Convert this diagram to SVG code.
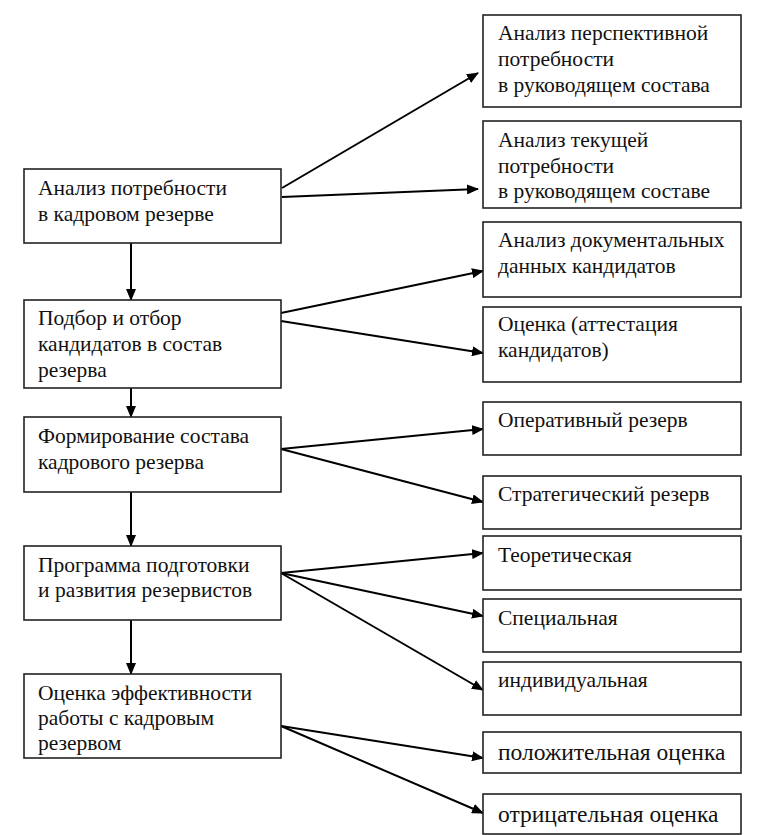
<svg xmlns="http://www.w3.org/2000/svg" width="765" height="835" viewBox="0 0 765 835">
<defs>
<marker id="ah" markerWidth="12" markerHeight="10" refX="11" refY="5" orient="auto" markerUnits="userSpaceOnUse">
<path d="M0,0 L12,5 L0,10 Z" fill="#000"/>
</marker>
</defs>
<rect width="765" height="835" fill="#fff"/>
<g id="connectors" stroke="#000" stroke-width="2" fill="none">
<line marker-end="url(#ah)" x1="131" y1="243" x2="131" y2="300"/>
<line marker-end="url(#ah)" x1="131" y1="388" x2="131" y2="417"/>
<line marker-end="url(#ah)" x1="131" y1="492" x2="131" y2="546"/>
<line marker-end="url(#ah)" x1="131" y1="620" x2="131" y2="674"/>
<line marker-end="url(#ah)" x1="282" y1="188" x2="478" y2="73"/>
<line marker-end="url(#ah)" x1="282" y1="197" x2="478" y2="189"/>
<line marker-end="url(#ah)" x1="281" y1="313" x2="483" y2="271"/>
<line marker-end="url(#ah)" x1="281" y1="321" x2="483" y2="353"/>
<line marker-end="url(#ah)" x1="281" y1="449" x2="483" y2="429"/>
<line marker-end="url(#ah)" x1="281" y1="449" x2="483" y2="502"/>
<line marker-end="url(#ah)" x1="281" y1="573" x2="483" y2="553"/>
<line marker-end="url(#ah)" x1="281" y1="573" x2="483" y2="616"/>
<line marker-end="url(#ah)" x1="281" y1="573" x2="483" y2="690"/>
<line marker-end="url(#ah)" x1="281" y1="726" x2="483" y2="758"/>
<line marker-end="url(#ah)" x1="281" y1="726" x2="483" y2="813"/>
</g>
<g id="n1"><rect fill="#fff" stroke="#222" stroke-width="1.6" x="24" y="169" width="257" height="74"/>
<text font-family="Liberation Serif" font-size="21.5" fill="#111" x="38" y="195">Анализ потребности</text><text font-family="Liberation Serif" font-size="21.5" fill="#111" x="38" y="221">в кадровом резерве</text></g>
<g id="n2"><rect fill="#fff" stroke="#222" stroke-width="1.6" x="24" y="300" width="257" height="88"/>
<text font-family="Liberation Serif" font-size="21.5" fill="#111" x="38" y="325">Подбор и отбор</text><text font-family="Liberation Serif" font-size="21.5" fill="#111" x="38" y="351">кандидатов в состав</text><text font-family="Liberation Serif" font-size="21.5" fill="#111" x="38" y="377">резерва</text></g>
<g id="n3"><rect fill="#fff" stroke="#222" stroke-width="1.6" x="24" y="417" width="257" height="75"/>
<text font-family="Liberation Serif" font-size="21.5" fill="#111" x="38" y="443">Формирование состава</text><text font-family="Liberation Serif" font-size="21.5" fill="#111" x="38" y="469">кадрового резерва</text></g>
<g id="n4"><rect fill="#fff" stroke="#222" stroke-width="1.6" x="24" y="546" width="257" height="74"/>
<text font-family="Liberation Serif" font-size="21.5" fill="#111" x="38" y="572">Программа подготовки</text><text font-family="Liberation Serif" font-size="21.5" fill="#111" x="38" y="597">и развития резервистов</text></g>
<g id="n5"><rect fill="#fff" stroke="#222" stroke-width="1.6" x="24" y="674" width="257" height="84"/>
<text font-family="Liberation Serif" font-size="21.5" fill="#111" x="38" y="700">Оценка эффективности</text><text font-family="Liberation Serif" font-size="21.5" fill="#111" x="38" y="725">работы с кадровым</text><text font-family="Liberation Serif" font-size="21.5" fill="#111" x="38" y="750">резервом</text></g>
<g id="r1"><rect fill="#fff" stroke="#222" stroke-width="1.6" x="483" y="15" width="258" height="92"/>
<text font-family="Liberation Serif" font-size="21.5" fill="#111" x="498" y="40">Анализ перспективной</text><text font-family="Liberation Serif" font-size="21.5" fill="#111" x="498" y="66">потребности</text><text font-family="Liberation Serif" font-size="21.5" fill="#111" x="498" y="92">в руководящем состава</text></g>
<g id="r2"><rect fill="#fff" stroke="#222" stroke-width="1.6" x="483" y="121" width="258" height="87"/>
<text font-family="Liberation Serif" font-size="21.5" fill="#111" x="498" y="147">Анализ текущей</text><text font-family="Liberation Serif" font-size="21.5" fill="#111" x="498" y="173">потребности</text><text font-family="Liberation Serif" font-size="21.5" fill="#111" x="498" y="198">в руководящем составе</text></g>
<g id="r3"><rect fill="#fff" stroke="#222" stroke-width="1.6" x="483" y="222" width="258" height="75"/>
<text font-family="Liberation Serif" font-size="21.5" fill="#111" x="498" y="247">Анализ документальных</text><text font-family="Liberation Serif" font-size="21.5" fill="#111" x="498" y="273">данных кандидатов</text></g>
<g id="r4"><rect fill="#fff" stroke="#222" stroke-width="1.6" x="483" y="307" width="258" height="75"/>
<text font-family="Liberation Serif" font-size="21.5" fill="#111" x="498" y="331">Оценка (аттестация</text><text font-family="Liberation Serif" font-size="21.5" fill="#111" x="498" y="357">кандидатов)</text></g>
<g id="r5"><rect fill="#fff" stroke="#222" stroke-width="1.6" x="483" y="402" width="258" height="53"/>
<text font-family="Liberation Serif" font-size="21.5" fill="#111" x="498" y="427">Оперативный резерв</text></g>
<g id="r6"><rect fill="#fff" stroke="#222" stroke-width="1.6" x="483" y="476" width="258" height="53"/>
<text font-family="Liberation Serif" font-size="21.5" fill="#111" x="498" y="501">Стратегический резерв</text></g>
<g id="r7"><rect fill="#fff" stroke="#222" stroke-width="1.6" x="483" y="536" width="258" height="54"/>
<text font-family="Liberation Serif" font-size="21.5" fill="#111" x="498" y="562">Теоретическая</text></g>
<g id="r8"><rect fill="#fff" stroke="#222" stroke-width="1.6" x="483" y="599" width="258" height="53"/>
<text font-family="Liberation Serif" font-size="21.5" fill="#111" x="498" y="625">Специальная</text></g>
<g id="r9"><rect fill="#fff" stroke="#222" stroke-width="1.6" x="483" y="662" width="258" height="53"/>
<text font-family="Liberation Serif" font-size="21.5" fill="#111" x="498" y="687">индивидуальная</text></g>
<g id="r10"><rect fill="#fff" stroke="#222" stroke-width="1.6" x="483" y="732" width="258" height="41"/>
<text font-family="Liberation Serif" font-size="23.5" fill="#111" x="498" y="760">положительная оценка</text></g>
<g id="r11"><rect fill="#fff" stroke="#222" stroke-width="1.6" x="483" y="794" width="258" height="40"/>
<text font-family="Liberation Serif" font-size="23.5" fill="#111" x="498" y="822">отрицательная оценка</text></g>
</svg>
